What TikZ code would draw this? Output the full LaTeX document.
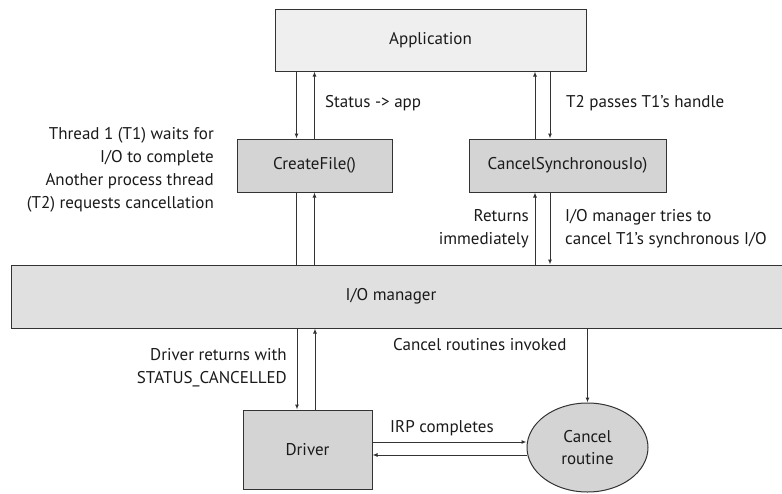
\documentclass[tikz,border=0pt]{standalone}
\usepackage{fontspec}
\setmainfont{PT Sans}
\usetikzlibrary{arrows.meta,shapes.geometric}
\definecolor{edge}{HTML}{333333}
\definecolor{appfill}{HTML}{EFEFEF}
\definecolor{boxfill}{HTML}{D4D4D4}
\definecolor{mgrfill}{HTML}{E0E0E0}
\definecolor{txt}{HTML}{1A1A1A}
\tikzset{
  every node/.style={font=\fontsize{17}{23}\selectfont, text=txt},
  box/.style={draw=edge, line width=1pt, rectangle, inner sep=0pt},
  arr/.style={draw=edge, line width=1pt, -{Latex[length=5pt,width=4pt]}},
  plain/.style={draw=edge, line width=1pt},
  lbl/.style={inner sep=0pt, align=left},
}
\begin{document}
\begin{tikzpicture}[x=1pt,y=-1pt]
\useasboundingbox (0,0) rectangle (782,493);
\clip (0,0) rectangle (782,493);
\node[box, fill=appfill, minimum width=311pt, minimum height=62pt] (app) at (430.5,40) {Application};
\node[box, fill=boxfill, minimum width=155pt, minimum height=53pt] (cf) at (314.5,165.5) {CreateFile()};
\node[box, fill=boxfill, minimum width=197pt, minimum height=53pt] (cs) at (567.5,165.5) {CancelSynchronousIo)};
\node[box, fill=mgrfill, minimum width=800pt, minimum height=63pt, anchor=west] (iom) at (11,296.5) {};
\node[inner sep=0pt] (iomt) at (391,296.5) {I/O manager};
\node[box, fill=boxfill, minimum width=129pt, minimum height=79pt] (dr) at (307.5,449.5) {Driver};
\node[ellipse, draw=edge, line width=1pt, fill=boxfill, minimum width=121pt, minimum height=89pt, inner sep=0pt, align=center, font=\fontsize{17}{22}\selectfont] (cr) at (587.5,447.5) {Cancel\\routine};

% Application <-> CreateFile
\draw[arr] ([xshift=-18pt]cf.north |- app.south) -- ([xshift=-18pt]cf.north);
\draw[arr] (cf.north) -- (cf.north |- app.south);
% CreateFile <-> I/O manager
\draw[plain] ([xshift=-18pt]cf.south) -- ([xshift=-18pt]cf.south |- iom.north);
\draw[arr] (cf.south |- iom.north) -- (cf.south);
% Application <-> CancelSynchronousIo
\draw[arr] ([xshift=-32.5pt]cs.north) -- ([xshift=-32.5pt]cs.north |- app.south);
\draw[arr] ([xshift=-17.5pt]cs.north |- app.south) -- ([xshift=-17.5pt]cs.north);
% CancelSynchronousIo <-> I/O manager
\draw[arr] ([xshift=-32.5pt]cs.south |- iom.north) -- ([xshift=-32.5pt]cs.south);
\draw[arr] ([xshift=-17.5pt]cs.south) -- ([xshift=-17.5pt]cs.south |- iom.north);
% I/O manager <-> Driver
\draw[arr] ([xshift=-10.5pt]dr.north |- iom.south) -- ([xshift=-10.5pt]dr.north);
\draw[arr] ([xshift=7.5pt]dr.north) -- ([xshift=7.5pt]dr.north |- iom.south);
% I/O manager -> Cancel routine
\draw[arr] (cr.north |- iom.south) -- (cr.north);
% Driver <-> Cancel routine
\draw[arr] ([yshift=7.5pt]dr.east) -- ([yshift=5.5pt]cr.west);
\draw[arr] ([yshift=-7.5pt]cr.west) -- ([yshift=-5.5pt]dr.east);

% labels
\node[lbl, anchor=east, align=right] (l1) at (214,170) {Thread 1 (T1) waits for\\I/O to complete\\Another process thread\\(T2) requests cancellation};
\node[lbl, anchor=west] (l2) at (325,103) {Status -> app};
\node[lbl, anchor=west] (l3) at (566,103) {T2 passes T1’s handle};
\node[lbl, anchor=east, align=right] (l4) at (529,228.5) {Returns\\immediately};
\node[lbl, anchor=west] (l5) at (565,228.5) {I/O manager tries to\\cancel T1’s synchronous I/O};
\node[lbl, anchor=west] (l6) at (393,345) {Cancel routines invoked};
\node[lbl, anchor=east, align=right] (l7) at (287,368) {Driver returns with\\STATUS\_CANCELLED};
\node[lbl, anchor=west] (l8) at (390,428) {IRP completes};
\end{tikzpicture}
\end{document}
